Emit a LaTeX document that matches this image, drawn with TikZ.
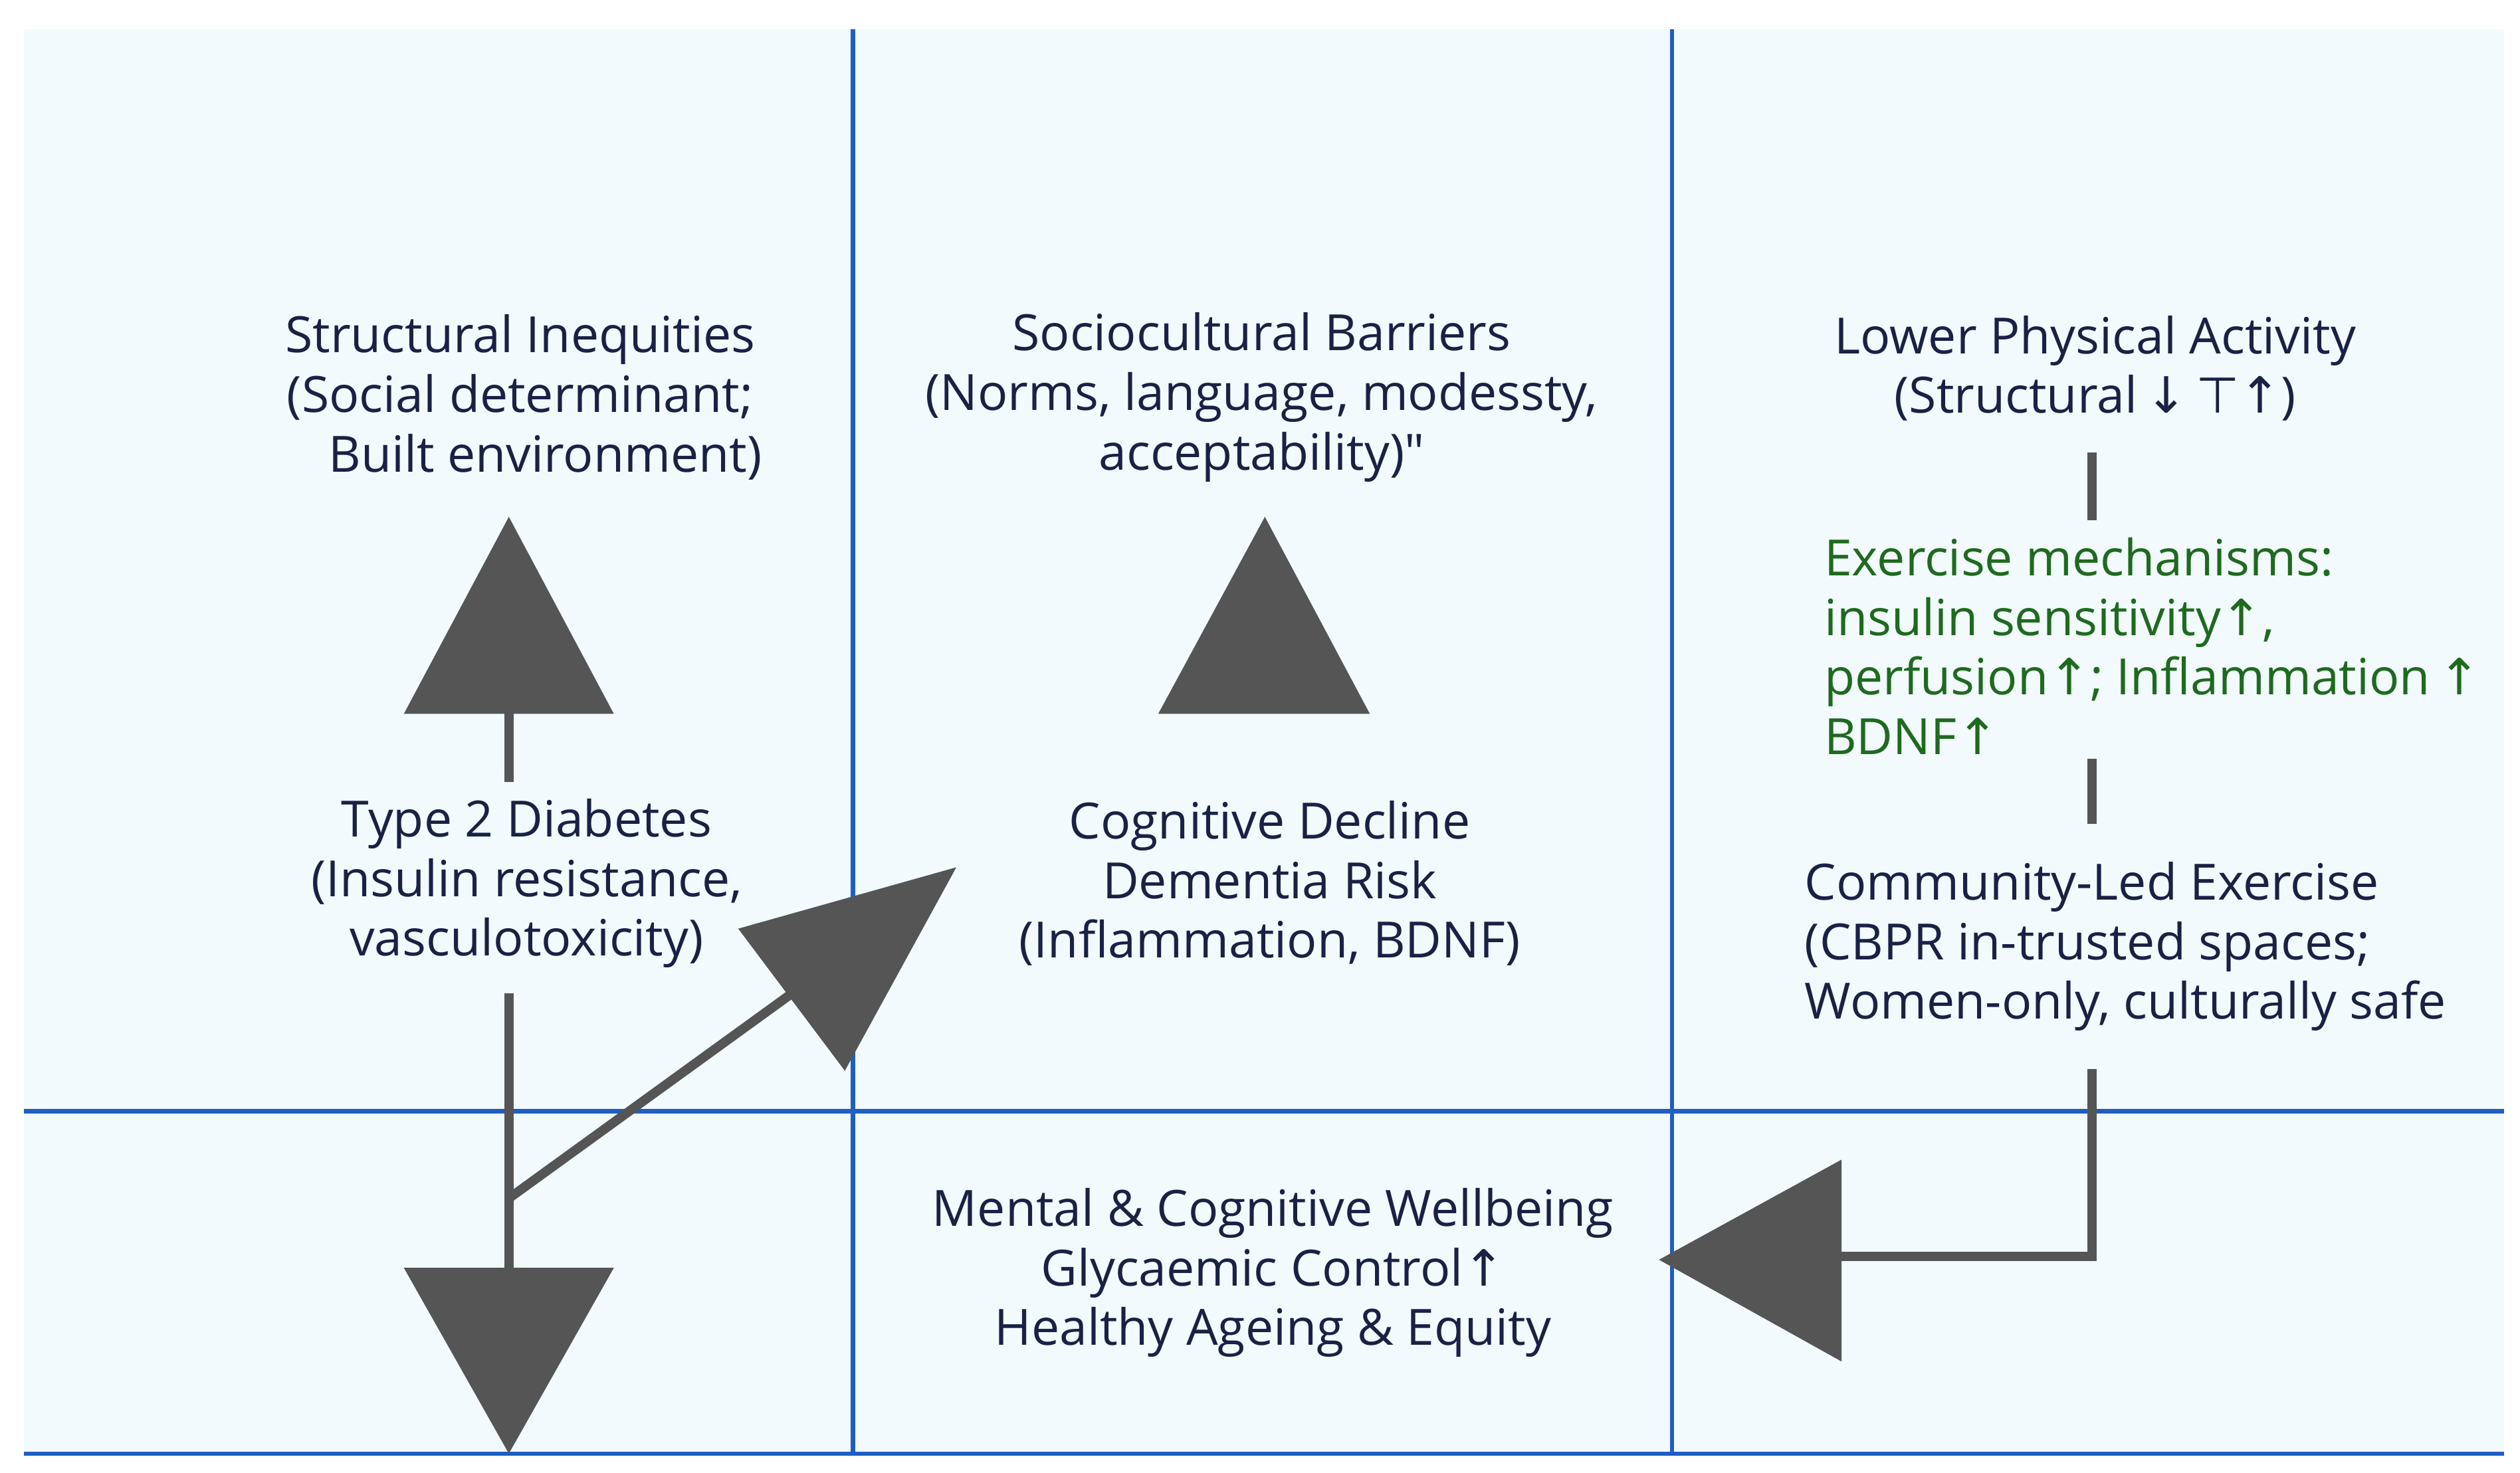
\documentclass[tikz,border=0pt]{standalone}
\usepackage{fontspec}
\setmainfont{Open Sans}
\newfontfamily\sym{DejaVu Sans}
\definecolor{bg}{HTML}{F2FAFD}
\definecolor{ln}{HTML}{1E5FC0}
\definecolor{gr}{HTML}{555555}
\definecolor{tx}{HTML}{1A2145}
\definecolor{gn}{HTML}{1E6A1E}
\newcommand{\up}{{\sym ↑}}
\newcommand{\dn}{{\sym ↓}}
\begin{document}
\begin{tikzpicture}[x=0.0243cm,y=-0.0243cm,
 t/.style={text=tx,font=\fontsize{21.4}{25.5}\selectfont,align=center,inner sep=0},
 g/.style={text=gn,font=\fontsize{21.4}{25.5}\selectfont,align=left,inner sep=0},
 bl/.style={draw=ln,line width=1.8pt},
 gl/.style={draw=gr,line width=4pt},
 tri/.style={fill=gr,draw=none}]
\useasboundingbox (0,0) rectangle (1560,912);
\fill[bg] (15,18) rectangle (1550,900);
\draw[bl] (528,18) -- (528,900);
\draw[bl] (1035,18) -- (1035,900);
\draw[bl] (15,688) -- (1550,688);
\draw[bl] (15,900) -- (1550,900);
% column 1
\node[t] (si) at (322,246) {Structural Inequities\\(Social determinant;\\\quad Built environment)};
\fill[tri] (315,320) -- (380,442) -- (250,442) -- cycle;
\coordinate (a1) at (315,442); \coordinate (a2) at (315,484);
\draw[gl] (a1) -- (a2);
\node[t] (t2) at (326,547) {Type 2 Diabetes\\(Insulin resistance,\\vasculotoxicity)};
\coordinate (b1) at (315,615); \coordinate (b2) at (315,786); \coordinate (b3) at (315,742);
\draw[gl] (b1) -- (b2);
\fill[tri] (250,785) -- (380,785) -- (315,900) -- cycle;
\coordinate (c2) at (500,608);
\draw[gl] (b3) -- (c2);
\fill[tri] (457,575) -- (592,537) -- (523,663) -- cycle;
% column 2
\node[t] (sb) at (781,246) {Sociocultural Barriers\\(Norms, language, modessty,\\acceptability)\textquotedbl};
\fill[tri] (783,320) -- (848,442) -- (717,442) -- cycle;
\node[t] (cd) at (786,547) {Cognitive Decline\\Dementia Risk\\(Inflammation, BDNF)};
\node[t] (mw) at (788,788) {Mental \& Cognitive Wellbeing\\Glycaemic Control\up\\Healthy Ageing \& Equity};
% column 3
\node[t] (lp) at (1297,228) {Lower Physical Activity\\(Structural\,\dn\,{\sym ⊤}\up)};
\coordinate (d1) at (1295,280); \coordinate (d2) at (1295,322);
\draw[gl] (d1) -- (d2);
\node[g,anchor=west] (em) at (1129,400) {Exercise mechanisms:\\insulin sensitivity\up,\\perfusion\up; Inflammation\,\up\\BDNF\up};
\coordinate (e1) at (1295,470); \coordinate (e2) at (1295,510);
\draw[gl] (e1) -- (e2);
\node[t,align=left,anchor=west] (cl) at (1117,586) {Community-Led Exercise\\(CBPR in-trusted spaces;\\Women-only, culturally safe};
\coordinate (f1) at (1295,662); \coordinate (f2) at (1295,778); \coordinate (f3) at (1138,778);
\draw[gl] (f1) -- (f2) -- (f3);
\fill[tri] (1140,718) -- (1140,843) -- (1027,780) -- cycle;
\end{tikzpicture}
\end{document}
